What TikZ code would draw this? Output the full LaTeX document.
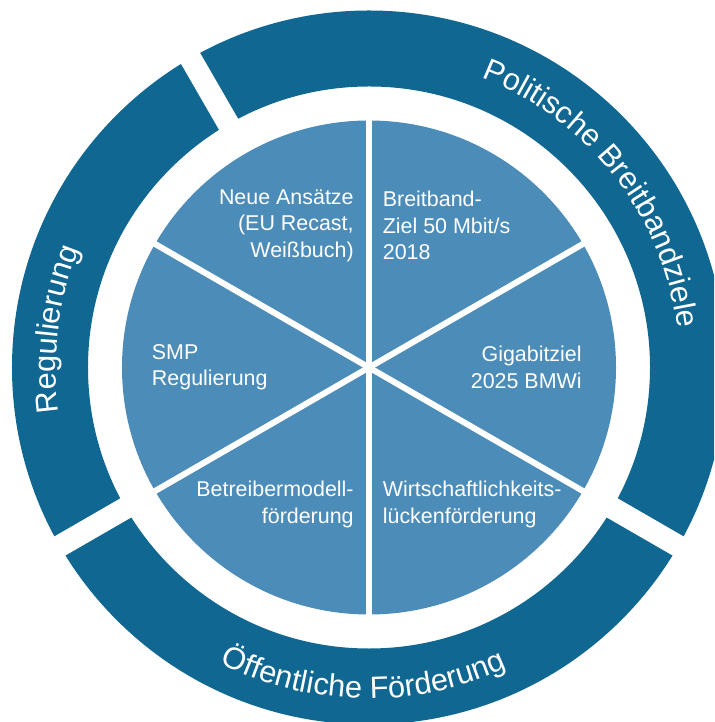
\documentclass[tikz,border=0pt]{standalone}
\usepackage{fontspec}
\setmainfont{Liberation Sans}
\usepackage{xcolor}
\usepackage{tikz}
\usetikzlibrary{decorations.text}
\definecolor{ringblue}{HTML}{106791}
\definecolor{pieblue}{HTML}{4C8CB9}
\newcommand{\ringfont}{\fontsize{17.5}{21}\selectfont}
\tikzset{
  ring/.style={fill=ringblue},
  pie/.style={fill=pieblue},
  ringgap/.style={draw=white, line width=22*0.02cm},
  piecut/.style={draw=white, line width=6*0.02cm},
  slicetext/.style={
    font=\fontsize{12.2}{15.1}\selectfont,
    text=white,
    inner sep=0pt
  },
  ringtext/.style={
    decorate,
    decoration={text along path, text color=white, text align=center, text={|\ringfont|#1}}
  }
}

\begin{document}
\begin{tikzpicture}[x=0.02cm, y=0.02cm]
  \useasboundingbox (-369,-354.5) rectangle (345,367.5);
  \begin{scope}
    \clip (-369,-354.5) rectangle (345,367.5);
    % outer ring, split into three parts
    \fill[ring, even odd rule] (0,0) circle[radius=357] (0,0) circle[radius=281];
    \foreach \a in {120,210,330}
      \draw[ringgap] (\a:270) -- (\a:370);

    % inner pie with six slices
    \fill[pie] (0,0) circle[radius=247];
    \foreach \a in {30,90,150}
      \draw[piecut] (\a:250) -- (\a+180:250);

    % ring labels
    \path[ringtext={Politische Breitbandziele}] (88:311) arc[start angle=88, end angle=-12, radius=311];
    \path[ringtext={Regulierung}] (203:313) arc[start angle=203, end angle=143, radius=313];
    \path[ringtext={Öffentliche Förderung}] (234:331) arc[start angle=234, end angle=304, radius=331];
  \end{scope}

  % slice labels
  \node[slicetext, anchor=east, align=right] (neu) at (-15,142) {Neue Ansätze\\(EU Recast,\\Weißbuch)};
  \node[slicetext, anchor=west, align=left] (bbz) at (13.5,142) {Breitband-\\Ziel 50 Mbit/s\\2018};
  \node[slicetext, anchor=west, align=left] (smp) at (-217.4,0.3) {SMP\\Regulierung};
  \node[slicetext, anchor=east, align=right] (giga) at (213,0.3) {Gigabitziel\\2025 BMWi};
  \node[slicetext, anchor=east, align=right] (bmf) at (-15,-137) {Betreibermodell-\\förderung};
  \node[slicetext, anchor=west, align=left] (wlf) at (13.5,-137) {Wirtschaftlichkeits-\\lückenförderung};
\end{tikzpicture}
\end{document}
